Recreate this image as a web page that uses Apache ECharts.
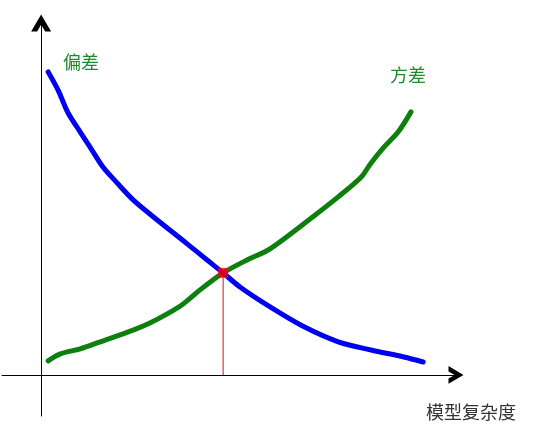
<!DOCTYPE html>
<html lang="zh">
<head>
    <meta charset="UTF-8">
    <title>偏差与方差</title>
    <style>
        html, body { margin: 0; padding: 0; background: #ffffff; }
    </style>
</head>
<body>
<div id="main" style="width: 542px;height:434px;"></div>

<script src="https://cdn.jsdelivr.net/npm/echarts@6/dist/echarts.min.js"></script>
<script type="text/javascript">
    // 曲线数据：[模型复杂度, 误差]
    var biasData = [
        [0.18, 10.33], [0.43, 9.72], [0.69, 8.93], [1.00, 8.28], [1.25, 7.77],
        [1.58, 7.09], [1.94, 6.55], [2.35, 5.97], [2.84, 5.42], [3.73, 4.47],
        [4.24, 3.92], [4.65, 3.48], [5.08, 3.00], [5.85, 2.32], [6.72, 1.64],
        [7.59, 1.13], [8.43, 0.85], [9.27, 0.61], [9.76, 0.44]
    ];
    var varianceData = [
        [0.18, 0.48], [0.49, 0.72], [1.00, 0.89], [1.51, 1.13], [2.35, 1.53],
        [2.78, 1.77], [3.22, 2.08], [3.63, 2.42], [4.06, 2.90], [4.65, 3.48],
        [5.26, 3.92], [5.85, 4.30], [6.97, 5.42], [7.59, 6.07], [8.18, 6.75],
        [8.43, 7.23], [8.76, 7.77], [9.12, 8.28], [9.45, 8.97]
    ];
    // 两条曲线的交点
    var crossPoint = [4.65, 3.48];
    var labels = ['偏差', '方差', '模型复杂度'];

    var myChart = echarts.init(document.getElementById('main'));

    // 手绘风格的箭头 (朝上，由 echarts 自动旋转)
    var chevron = 'path://M0,17 L10,0 L20,17 L14,17 L10,10 L6,17 Z';

    myChart.setOption({
        backgroundColor: '#ffffff',
        animation: false,
        grid: {
            left: 2,
            top: 23,
            width: 454,
            height: 393
        },
        xAxis: {
            type: 'value',
            min: -1,
            max: 10.6,
            axisLine: {
                onZero: true,
                symbol: ['none', chevron],
                symbolSize: [24, 15],
                lineStyle: {color: '#000000', width: 1}
            },
            axisTick: {show: false},
            axisLabel: {show: false},
            splitLine: {show: false}
        },
        yAxis: {
            type: 'value',
            min: -1.4,
            max: 12,
            axisLine: {
                onZero: true,
                symbol: ['none', chevron],
                symbolSize: [20, 17],
                lineStyle: {color: '#000000', width: 1}
            },
            axisTick: {show: false},
            axisLabel: {show: false},
            splitLine: {show: false}
        },
        graphic: [
            {
                type: 'text', x: 81, y: 62,
                style: {text: labels[0], fill: '#1f8a2e', fontSize: 18,
                    fontFamily: 'Noto Sans CJK SC', align: 'center', verticalAlign: 'middle'}
            },
            {
                type: 'text', x: 408, y: 75,
                style: {text: labels[1], fill: '#1f8a2e', fontSize: 18,
                    fontFamily: 'Noto Sans CJK SC', align: 'center', verticalAlign: 'middle'}
            },
            {
                type: 'text', x: 471, y: 412,
                style: {text: labels[2], fill: '#333333', fontSize: 18,
                    fontFamily: 'Noto Sans CJK SC', align: 'center', verticalAlign: 'middle'}
            }
        ],
        series: [
            {
                // 交点到横轴的垂线
                type: 'line',
                data: [crossPoint, [crossPoint[0], 0]],
                showSymbol: false,
                silent: true,
                lineStyle: {color: '#e01010', width: 1}
            },
            {
                name: labels[1],
                type: 'line',
                data: varianceData,
                smooth: 0.3,
                showSymbol: false,
                lineStyle: {color: '#0c7f0c', width: 5, cap: 'round'}
            },
            {
                name: labels[0],
                type: 'line',
                data: biasData,
                smooth: 0.3,
                showSymbol: false,
                lineStyle: {color: '#0000f0', width: 5, cap: 'round'}
            },
            {
                // 交点
                type: 'scatter',
                data: [crossPoint],
                symbol: 'rect',
                symbolSize: 10,
                itemStyle: {color: '#ff0000'},
                z: 5
            }
        ]
    });
</script>
</body>
</html>
